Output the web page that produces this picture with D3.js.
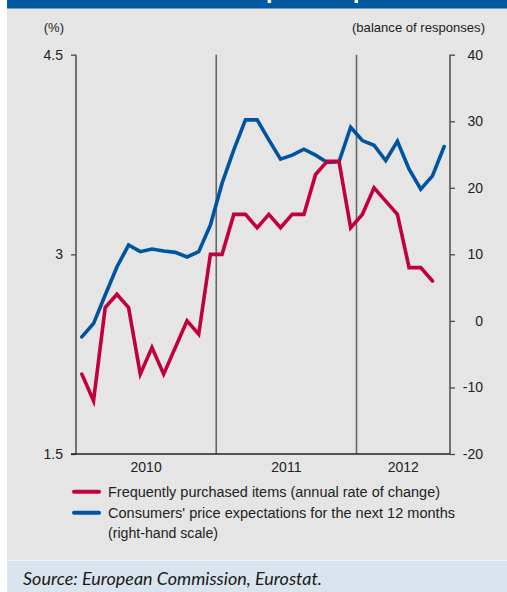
<!DOCTYPE html>
<html>
<head>
<meta charset="utf-8">
<script src="https://cdn.jsdelivr.net/npm/d3@7"></script>
<style>
  html, body { margin: 0; padding: 0; background: #ffffff; }
  svg { display: block; }
</style>
</head>
<body>
<script>
// Monthly observations, January 2010 onwards
const years = ["2010", "2011", "2012"];
const monthCount = 32; // Jan 2010 .. Aug 2012 on the time axis

// Frequently purchased items, annual rate of change (%), left scale
const frequentItems = [
  2.1, 1.9, 2.6, 2.7, 2.6, 2.1, 2.3, 2.1, 2.3, 2.5, 2.4, 3.0,
  3.0, 3.3, 3.3, 3.2, 3.3, 3.2, 3.3, 3.3, 3.6, 3.7, 3.7, 3.2,
  3.3, 3.5, 3.4, 3.3, 2.9, 2.9, 2.8
];

// Consumers' price expectations for the next 12 months (balance), right scale
const priceExpectations = [
  -2.4, -0.4, 3.9, 8.1, 11.4, 10.4, 10.8, 10.5, 10.3, 9.6, 10.4, 14.4,
  20.7, 25.7, 30.2, 30.2, 27.2, 24.3, 24.9, 25.8, 24.9, 23.8, 23.9, 29.1,
  27.1, 26.4, 24.1, 27.0, 22.8, 19.8, 21.8, 26.2
];

const leftTicks = [1.5, 3, 4.5];
const rightTicks = [-20, -10, 0, 10, 20, 30, 40];

const legendItems = [
  { label: ["Frequently purchased items (annual rate of change)"], color: "#c2003c" },
  { label: ["Consumers' price expectations for the next 12 months", "(right-hand scale)"], color: "#00549f" }
];

const W = 507, H = 592;
const plotLeft = 76, plotRight = 450, plotTop = 54.7, plotBottom = 454;
const axisColor = "#4a4a4a";
const font = "'Liberation Sans', Arial, sans-serif";

const svg = d3.select("body").append("svg").attr("width", W).attr("height", H);

// Panel backgrounds
svg.append("rect").attr("x", 7).attr("y", 0).attr("width", W - 7).attr("height", 560).attr("fill", "#e5e5e5");
svg.append("rect").attr("x", 7).attr("y", 0).attr("width", W - 7).attr("height", 8.5).attr("fill", "#005aa1");
svg.append("rect").attr("x", 7).attr("y", 560.5).attr("width", W - 7).attr("height", H - 560.5).attr("fill", "#dae4ee");

// Heading (sits mostly above the visible area of the header bar)
const heading = svg.append("text")
  .attr("x", 0).attr("y", -1.6)
  .attr("fill", "#ffffff")
  .attr("font-family", font).attr("font-weight", "bold").attr("font-size", 20)
  .text("Consumer price expectations");
{
  const node = heading.node();
  const s = heading.text();
  const i1 = s.indexOf("price"), i2 = s.indexOf("pect");
  const gap = node.getStartPositionOfChar(i2).x - node.getStartPositionOfChar(i1).x;
  const fs = 20 * 87 / gap;
  heading.attr("font-size", fs);
  const x1 = node.getStartPositionOfChar(i1).x;
  heading.attr("x", 266 - x1);
}

// Scales
const x = d3.scaleLinear().domain([0, monthCount]).range([plotLeft, plotRight]);
const yL = d3.scaleLinear().domain([1.5, 4.5]).range([plotBottom, plotTop]);
const yR = d3.scaleLinear().domain([-20, 40]).range([plotBottom, plotTop]);

// Year separators
svg.append("g").selectAll("line")
  .data(years.slice(1))
  .join("line")
  .attr("x1", (d, i) => x((i + 1) * 12)).attr("x2", (d, i) => x((i + 1) * 12))
  .attr("y1", plotTop).attr("y2", plotBottom)
  .attr("stroke", "#666666").attr("stroke-width", 1.6);

// Left axis
const gL = svg.append("g").attr("transform", `translate(${plotLeft},0)`)
  .call(d3.axisLeft(yL).tickValues(leftTicks).tickSize(5).tickPadding(7)
    .tickFormat(d => String(d)));
gL.select(".domain").attr("stroke", axisColor).attr("stroke-width", 1.5)
  .attr("d", `M0,${plotTop}V${plotBottom}`);
gL.selectAll(".tick line").attr("stroke", axisColor).attr("stroke-width", 1.3);
gL.selectAll(".tick text").attr("font-family", font).attr("font-size", 14).attr("fill", "#222").attr("dx", -1);

// Right axis (plain hyphen for negatives)
const gR = svg.append("g").attr("transform", `translate(${plotRight},0)`)
  .call(d3.axisRight(yR).tickValues(rightTicks).tickSize(5).tickPadding(0)
    .tickFormat(d => String(d)));
gR.select(".domain").attr("stroke", axisColor).attr("stroke-width", 1.5)
  .attr("d", `M0,${plotTop}V${plotBottom}`);
gR.selectAll(".tick line").attr("stroke", axisColor).attr("stroke-width", 1.3);
gR.selectAll(".tick text").attr("font-family", font).attr("font-size", 14).attr("fill", "#222")
  .attr("text-anchor", "end").attr("x", 33);

// Bottom axis line
svg.append("line")
  .attr("x1", plotLeft - 5).attr("x2", plotRight)
  .attr("y1", plotBottom).attr("y2", plotBottom)
  .attr("stroke", "#222").attr("stroke-width", 1.6);

// Year labels, centred on each year's span within the axis
svg.append("g").selectAll("text")
  .data(years)
  .join("text")
  .attr("x", (d, i) => x((i * 12 + Math.min((i + 1) * 12, monthCount)) / 2))
  .attr("y", 472)
  .attr("text-anchor", "middle")
  .attr("font-family", font).attr("font-size", 14).attr("fill", "#222")
  .text(d => d);

// Unit labels
svg.append("text").attr("x", 64).attr("y", 32).attr("text-anchor", "end")
  .attr("font-family", font).attr("font-size", 13).attr("fill", "#222").text("(%)");
svg.append("text").attr("x", 485).attr("y", 32).attr("text-anchor", "end")
  .attr("font-family", font).attr("font-size", 13).attr("fill", "#222")
  .attr("textLength", 133).attr("lengthAdjust", "spacingAndGlyphs")
  .text("(balance of responses)");

// Series lines
const lineL = d3.line().x((d, i) => x(i + 0.5)).y(d => yL(d));
const lineR = d3.line().x((d, i) => x(i + 0.5)).y(d => yR(d));

svg.append("path").datum(priceExpectations)
  .attr("d", lineR).attr("fill", "none")
  .attr("stroke", legendItems[1].color).attr("stroke-width", 3.6)
  .attr("stroke-linejoin", "miter").attr("stroke-linecap", "round");

svg.append("path").datum(frequentItems)
  .attr("d", lineL).attr("fill", "none")
  .attr("stroke", legendItems[0].color).attr("stroke-width", 3.6)
  .attr("stroke-linejoin", "miter").attr("stroke-linecap", "round");

// Legend
const legendWidths = [[332], [347, 110]];
const legendY = [491.7, 512.7];
legendItems.forEach((item, k) => {
  const g = svg.append("g");
  g.append("line")
    .attr("x1", 74).attr("x2", 99)
    .attr("y1", legendY[k]).attr("y2", legendY[k])
    .attr("stroke", item.color).attr("stroke-width", 4).attr("stroke-linecap", "round");
  item.label.forEach((t, j) => {
    g.append("text")
      .attr("x", 108).attr("y", legendY[k] + 5 + j * 20.5)
      .attr("font-family", font).attr("font-size", 14).attr("fill", "#222")
      .attr("textLength", legendWidths[k][j]).attr("lengthAdjust", "spacingAndGlyphs")
      .text(t);
  });
});

// Source line
svg.append("text")
  .attr("x", 23).attr("y", 585)
  .attr("font-family", "Lato, 'Open Sans', sans-serif").attr("font-style", "italic")
  .attr("font-size", 17.5).attr("fill", "#1a1a1a")
  .attr("textLength", 299).attr("lengthAdjust", "spacingAndGlyphs")
  .text("Source: European Commission, Eurostat.");
</script>
</body>
</html>
